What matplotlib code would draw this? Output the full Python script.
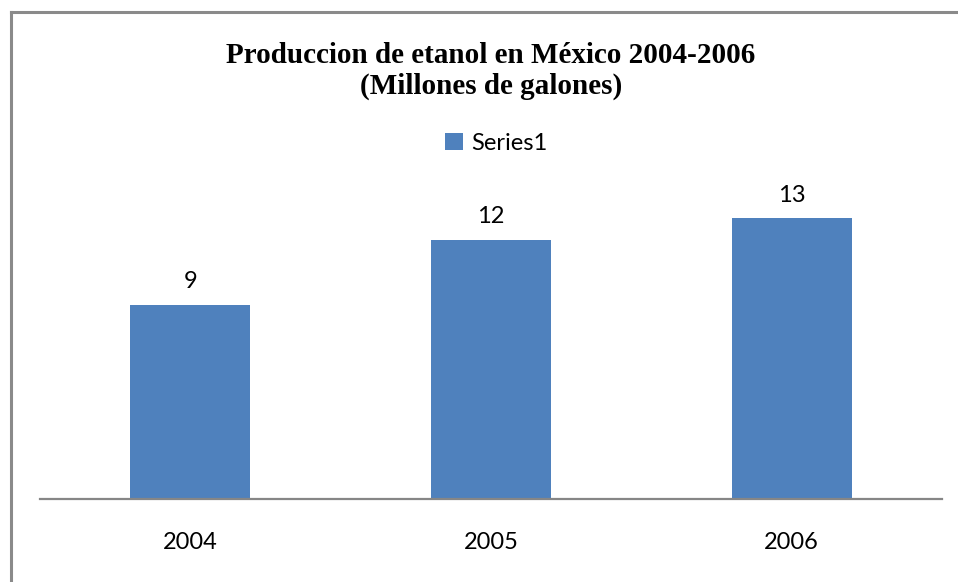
import matplotlib
matplotlib.use("Agg")
import matplotlib.pyplot as plt
from matplotlib.lines import Line2D

years = ["2004", "2005", "2006"]
values = [9, 12, 13]
series_name = "Series1"
title = "Produccion de etanol en México 2004-2006\n(Millones de galones)"

W, H = 958, 582
fig = plt.figure(figsize=(W / 100, H / 100), dpi=100)

# outer border (cropped on right and bottom)
fig.add_artist(Line2D([10.5 / W, 10.5 / W], [0, 1 - 11.5 / H], transform=fig.transFigure,
                      color="#8a8a8a", lw=2.2))
fig.add_artist(Line2D([10.5 / W, 1], [1 - 11.5 / H, 1 - 11.5 / H], transform=fig.transFigure,
                      color="#8a8a8a", lw=2.2))

ax_left, ax_right = 40 / W, 942 / W
ax_bottom = (H - 499) / H
ax_top = (H - (499 - 14 * 21.6)) / H
ax = fig.add_axes([ax_left, ax_bottom, ax_right - ax_left, ax_top - ax_bottom])

x = range(len(years))
bars = ax.bar(x, values, width=0.4, color="#4F81BD", label=series_name, zorder=2)
ax.set_xlim(-0.5, len(years) - 0.5)
ax.set_ylim(0, 14)

for xi, v in zip(x, values):
    ax.annotate(str(v), (xi, v), xytext=(0, 9), textcoords="offset points",
                ha="center", va="bottom", fontsize=17, family="Lato", color="#000000")

for s in ["top", "right", "left"]:
    ax.spines[s].set_visible(False)
ax.spines["bottom"].set_color("#868686")
ax.spines["bottom"].set_linewidth(1.6)
ax.set_yticks([])
ax.set_xticks(list(x))
ax.set_xticklabels(years, fontsize=17, family="Lato")
ax.tick_params(axis="x", length=0, pad=24)

fig.text(491 / W, 1 - 71 / H, title, ha="center", va="center", fontsize=21,
         fontweight="bold", family="Liberation Serif", linespacing=1.22)

leg = fig.legend(handles=[bars], labels=[series_name], loc="center",
                 bbox_to_anchor=(496 / W, 1 - 143 / H), frameon=False,
                 prop={"family": "Lato", "size": 17}, handlelength=0.75, handleheight=0.75,
                 handletextpad=0.35)

fig.savefig("out.png", dpi=100)
